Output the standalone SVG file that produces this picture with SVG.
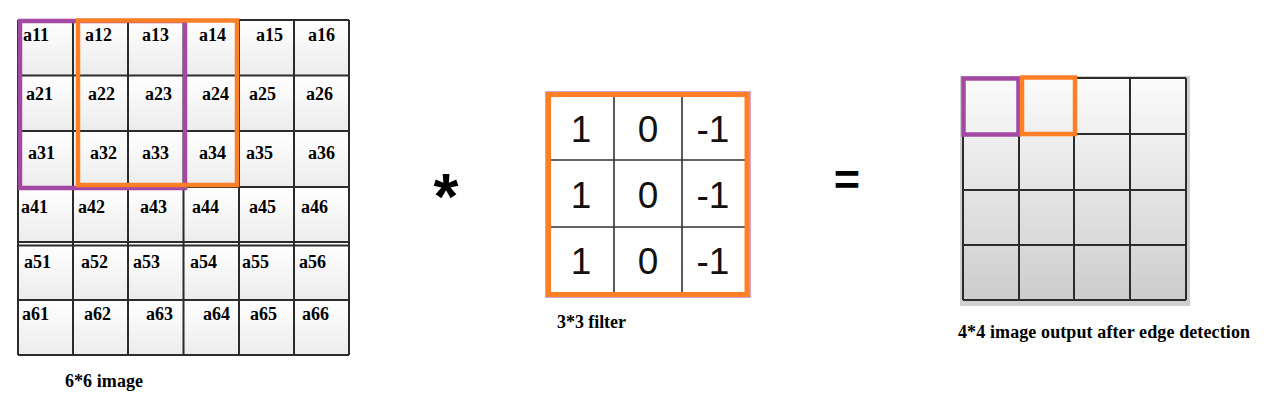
<svg xmlns="http://www.w3.org/2000/svg" width="1278" height="405" viewBox="0 0 1278 405">
<defs>
<linearGradient id="rowg" x1="0" y1="0" x2="0" y2="1">
<stop offset="0" stop-color="#ffffff"/>
<stop offset="1" stop-color="#ececec"/>
</linearGradient>
<linearGradient id="outg" x1="0" y1="0" x2="0" y2="1">
<stop offset="0" stop-color="#fbfbfb"/>
<stop offset="1" stop-color="#cdcdcd"/>
</linearGradient>
</defs>
<style>
.lbl{font-family:"Liberation Serif","Times New Roman",serif;font-weight:bold;font-size:18px;fill:#000}
.cap{font-family:"Liberation Serif","Times New Roman",serif;font-weight:bold;font-size:18px;fill:#000}
.num{font-family:"Liberation Sans",Arial,sans-serif;font-size:37px;fill:#111;text-anchor:middle}
.grid{stroke:#2b2b2b;stroke-width:2;fill:none}
.thin{stroke:#333;stroke-width:1.6;fill:none}
.purple{stroke:#A349A4;stroke-width:4.5;fill:none}
.orange{stroke:#FF7F27;stroke-width:4.5;fill:none}
.op{font-family:"Liberation Sans",Arial,sans-serif;font-weight:bold;fill:#000;text-anchor:middle}
</style>
<rect width="1278" height="405" fill="#ffffff"/>

<g id="input-image">
<rect x="18" y="20" width="331" height="55.5" fill="url(#rowg)"/>
<rect x="18" y="75.5" width="331" height="55.5" fill="url(#rowg)"/>
<rect x="18" y="131" width="331" height="56" fill="url(#rowg)"/>
<rect x="18" y="187" width="331" height="56" fill="url(#rowg)"/>
<rect x="18" y="244" width="331" height="56" fill="url(#rowg)"/>
<rect x="18" y="300" width="331" height="55" fill="url(#rowg)"/>
<path class="grid" d="M18 20V355M73 20V355M128 20V355M183.5 20V355M239 20V355M294 20V355M349 20V355M18 20H349M18 75.5H349M18 131H349M18 187H349M18 242H349M18 245.5H349M18 300H349M18 355H349"/>
<text class="lbl" x="23" y="41">a11</text><text class="lbl" x="85" y="41">a12</text><text class="lbl" x="142" y="41">a13</text><text class="lbl" x="199" y="41">a14</text><text class="lbl" x="256" y="41">a15</text><text class="lbl" x="308" y="41">a16</text>
<text class="lbl" x="26" y="100">a21</text><text class="lbl" x="88" y="100">a22</text><text class="lbl" x="145" y="100">a23</text><text class="lbl" x="202" y="100">a24</text><text class="lbl" x="249" y="100">a25</text><text class="lbl" x="306" y="100">a26</text>
<text class="lbl" x="28" y="159">a31</text><text class="lbl" x="90" y="159">a32</text><text class="lbl" x="142" y="159">a33</text><text class="lbl" x="199" y="159">a34</text><text class="lbl" x="246" y="159">a35</text><text class="lbl" x="308" y="159">a36</text>
<text class="lbl" x="21" y="213">a41</text><text class="lbl" x="78" y="213">a42</text><text class="lbl" x="140" y="213">a43</text><text class="lbl" x="192" y="213">a44</text><text class="lbl" x="249" y="213">a45</text><text class="lbl" x="301" y="213">a46</text>
<text class="lbl" x="24" y="268">a51</text><text class="lbl" x="81" y="268">a52</text><text class="lbl" x="133" y="268">a53</text><text class="lbl" x="190" y="268">a54</text><text class="lbl" x="242" y="268">a55</text><text class="lbl" x="299" y="268">a56</text>
<text class="lbl" x="22" y="320">a61</text><text class="lbl" x="84" y="320">a62</text><text class="lbl" x="146" y="320">a63</text><text class="lbl" x="203" y="320">a64</text><text class="lbl" x="250" y="320">a65</text><text class="lbl" x="302" y="320">a66</text>
<rect class="purple" x="20" y="21" width="165" height="167"/>
<rect class="orange" x="78" y="20.5" width="159" height="164.5"/>
<text class="cap" x="65" y="387" textLength="78" lengthAdjust="spacing">6*6 image</text>
</g>

<g id="convolve-op">
<text class="op" x="446" y="219" font-size="64">*</text>
</g>

<g id="filter">
<rect x="546" y="92" width="204" height="205" fill="none" stroke="#A349A4" stroke-width="1"/>
<rect x="548.5" y="94.5" width="198.5" height="200" fill="#ffffff"/>
<path class="thin" d="M614 96V292M682 96V292M550 160H745M550 227H745"/>
<rect x="548.5" y="94.5" width="198.5" height="200" fill="none" stroke="#FF7F27" stroke-width="5"/>
<text class="num" x="581" y="142">1</text><text class="num" x="648" y="142">0</text><text class="num" x="713" y="142">-1</text>
<text class="num" x="581" y="208">1</text><text class="num" x="648" y="208">0</text><text class="num" x="713" y="208">-1</text>
<text class="num" x="581" y="274">1</text><text class="num" x="648" y="274">0</text><text class="num" x="713" y="274">-1</text>
<text class="cap" x="557" y="328" textLength="69" lengthAdjust="spacing">3*3 filter</text>
</g>

<g id="equals-op">
<text class="op" x="847" y="195" font-size="45">=</text>
</g>

<g id="output">
<rect x="960" y="76" width="230" height="230" fill="#cfcfcf"/>
<rect x="963" y="78" width="224" height="222" fill="url(#outg)"/>
<path class="grid" d="M963 78V300M1019 78V300M1074 78V300M1130 78V300M1186 78V300M963 78H1186M963 134H1186M963 190H1186M963 245H1186M963 300H1186"/>
<rect class="purple" x="963.5" y="78.5" width="55" height="56"/>
<rect class="orange" x="1022" y="77.5" width="53" height="56.5"/>
<text class="cap" x="958" y="338" textLength="292" lengthAdjust="spacing">4*4 image output after edge detection</text>
</g>

<g id="connectors"/>
</svg>
